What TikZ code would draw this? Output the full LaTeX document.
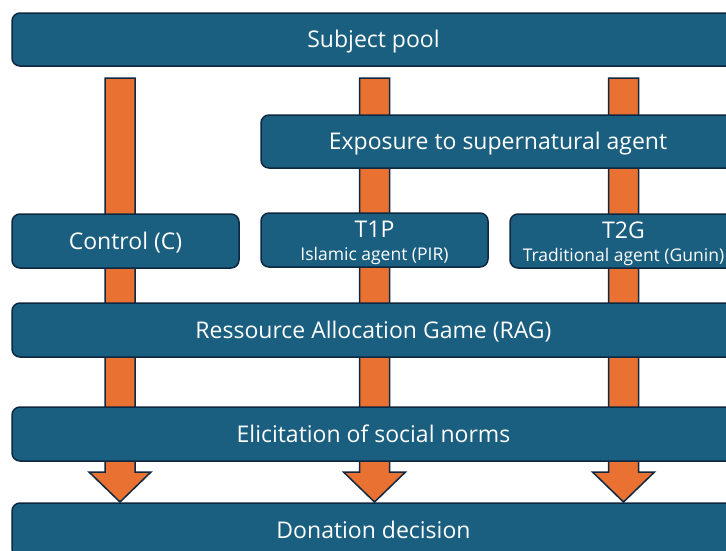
\documentclass[tikz,border=0pt]{standalone}
\usepackage{fontspec}
\setmainfont{Open Sans}
\usetikzlibrary{calc}
\definecolor{boxblue}{RGB}{26,94,128}
\definecolor{edgeblue}{RGB}{14,40,65}
\definecolor{arroworange}{RGB}{233,113,50}
\tikzset{
  box/.style={draw=edgeblue, line width=1.5pt, fill=boxblue, rounded corners=8pt,
    text=white, font=\fontsize{23}{27}\selectfont, inner sep=0pt, align=center,
    text height=17pt, text depth=1pt},
  twoline/.style={text height=12pt, text depth=17pt,
    label={[yshift=-16pt, font=\fontsize{17.5}{20}\selectfont, text=white, inner sep=0pt]center:#1}},
  fatarrow/.style={draw=edgeblue, line width=1.5pt, fill=arroworange, line join=miter}
}
\newcommand\fatarrow[2]{%
  \draw[fatarrow] ($(#1)+(-15,0)$) -- ($(#2)+(-15,-30)$) -- ($(#2)+(-31,-30)$) -- (#2)
    -- ($(#2)+(31,-30)$) -- ($(#2)+(15,-30)$) -- ($(#1)+(15,0)$) -- cycle;}
\begin{document}
\begin{tikzpicture}[x=1pt,y=-1pt]
\useasboundingbox (0,0) rectangle (726,550);
\clip (0,0) rectangle (726,550);
% arrows (behind boxes)
\coordinate (s1) at (120,78);   \coordinate (e1) at (120,502);
\coordinate (s2) at (374.5,78); \coordinate (e2) at (374.5,502);
\coordinate (s3) at (623.5,78); \coordinate (e3) at (623.5,502);
\fatarrow{s1}{e1}
\fatarrow{s2}{e2}
\fatarrow{s3}{e3}
% boxes
\node[box, minimum width=723, minimum height=53] (pool) at (373.5,39.5) {Subject pool};
\node[box, minimum width=474, minimum height=53] (expo) at (498,141.5) {Exposure to supernatural agent};
\node[box, minimum width=227, minimum height=54] (ctrl) at (125.5,241) {Control (C)};
\node[box, minimum width=227, minimum height=54, twoline={Islamic agent (PIR)}] (t1p) at (374.5,240) {T1P};
\node[box, minimum width=227, minimum height=54, twoline={Traditional agent (Gunin)}] (t2g) at (623.5,241) {T2G};
\node[box, minimum width=723, minimum height=54] (rag) at (373.5,330) {Ressource Allocation Game (RAG)};
\node[box, minimum width=723, minimum height=54] (elic) at (373.5,434) {Elicitation of social norms};
\node[box, minimum width=723, minimum height=54] (don) at (373.5,530) {Donation decision};
\end{tikzpicture}
\end{document}
